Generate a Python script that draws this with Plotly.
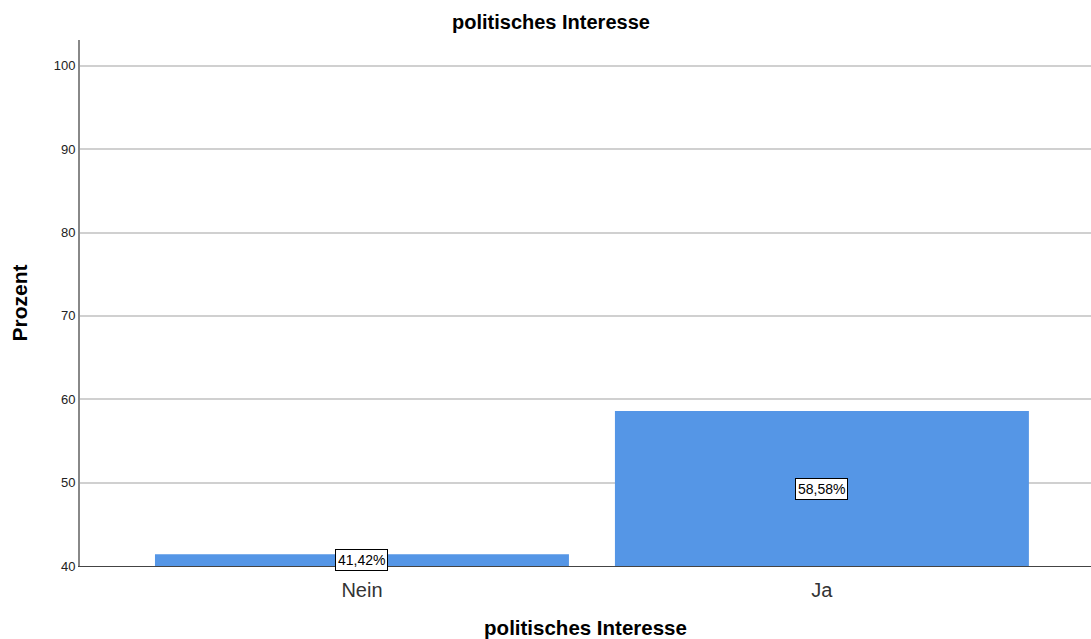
import plotly.graph_objects as go

# Anteile der Befragten nach politischem Interesse (in Prozent)
kategorien = ["Nein", "Ja"]
prozent = [41.42, 58.58]
y_basis = 40
y_ticks = [40, 50, 60, 70, 80, 90, 100]

x_pos = list(range(len(kategorien)))
label_text = [f"{v:.2f}%".replace(".", ",") for v in prozent]

fig = go.Figure()
fig.add_trace(go.Bar(
    x=x_pos,
    y=[v - y_basis for v in prozent],
    base=y_basis,
    width=0.9,
    marker=dict(color="#5596E6", line=dict(width=0)),
    hoverinfo="skip",
))

# Wertbeschriftungen in der Mitte der Balken
for xp, v, t in zip(x_pos, prozent, label_text):
    fig.add_annotation(
        x=xp, y=(y_basis + v) / 2, text=t, showarrow=False,
        font=dict(family="Liberation Sans, Arial", size=14, color="black"),
        bgcolor="white", bordercolor="black", borderwidth=1, borderpad=2,
    )

fig.update_layout(
    width=1091, height=639,
    margin=dict(l=80, r=0, t=40, b=73),
    plot_bgcolor="white", paper_bgcolor="white",
    showlegend=False,
    font=dict(family="Liberation Sans, Arial", color="black"),
    title=dict(text="<b>politisches Interesse</b>", x=0.505, xanchor="center",
               y=1 - 22 / 639, yanchor="middle", font=dict(size=20)),
    xaxis=dict(
        tickmode="array", tickvals=x_pos, ticktext=kategorien,
        range=[-0.613, 1.585],
        showgrid=False, zeroline=False,
        showline=True, linecolor="#444444", linewidth=1,
        ticks="", tickfont=dict(size=20, color="#333333"),
        ticklabelstandoff=6, automargin=False,
        title=dict(text="<b>politisches Interesse</b>", font=dict(size=20.5), standoff=28),
    ),
    yaxis=dict(
        range=[40, 103.1], tickvals=y_ticks,
        showgrid=True, gridcolor="#d0d0d0", gridwidth=1.5,
        zeroline=False, showline=True, linecolor="#888888", linewidth=2,
        ticks="", tickfont=dict(size=13, color="#222222"), automargin=False,
        title=dict(text="<b>Prozent</b>", font=dict(size=21), standoff=20),
    ),
)

fig.write_html("out.html")
